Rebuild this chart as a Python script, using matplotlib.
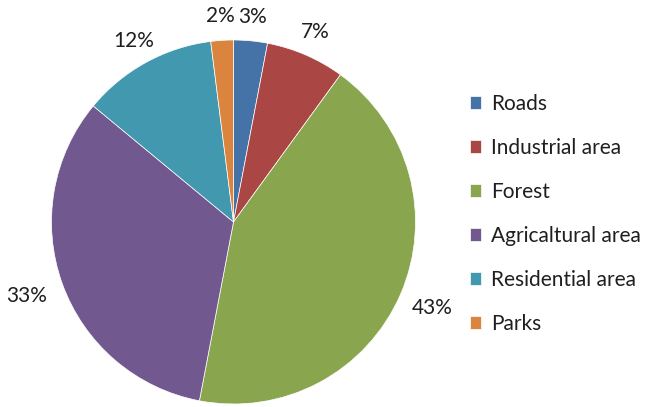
import matplotlib
matplotlib.use("Agg")
import matplotlib.pyplot as plt
import numpy as np

categories = ["Roads", "Industrial area", "Forest", "Agricaltural area", "Residential area", "Parks"]
values = [3, 7, 43, 33, 12, 2]
colors = ["#4572A7", "#AA4643", "#89A54E", "#71588F", "#4198AF", "#DB843D"]

plt.rcParams['font.family'] = ['Lato', 'DejaVu Sans']
FS = 15
TXT = '#1f1f1f'

W, H = 646, 407
fig = plt.figure(figsize=(W / 100, H / 100), dpi=100)
cx, cy, r = 233.5, 185, 182
ax = fig.add_axes([(cx - r) / W, (cy - r) / H, 2 * r / W, 2 * r / H])
wedges, texts, autotexts = ax.pie(
    values, colors=colors, startangle=90, counterclock=False,
    autopct='%1.0f%%', pctdistance=1.18,
    wedgeprops=dict(linewidth=0.5, edgecolor='white'),
    textprops=dict(fontsize=FS, color=TXT))
ax.set_xlim(-1, 1)
ax.set_ylim(-1, 1)
ax.set_aspect('equal')
ax.axis('off')

# place labels just outside the pie (outside-end style)
fig.canvas.draw()
renderer = fig.canvas.get_renderer()
gap = 17.0
for w, t in zip(wedges, autotexts):
    ang = np.deg2rad((w.theta1 + w.theta2) / 2)
    bb = t.get_window_extent(renderer)
    hw, hh = bb.width / 2 * 1.15, bb.height / 2 * 0.7
    c, s = abs(np.cos(ang)), abs(np.sin(ang))
    ext = min(hw / c if c > 1e-6 else 1e9, hh / s if s > 1e-6 else 1e9)
    d = (r + gap + ext) / r
    t.set_position((d * np.cos(ang), d * np.sin(ang)))

leg = fig.legend(wedges, categories, loc='center left',
                 bbox_to_anchor=(470 / W, (H - 214) / H),
                 frameon=False, fontsize=FS, borderpad=0, borderaxespad=0,
                 handlelength=0.55, handleheight=0.55, handletextpad=0.45,
                 labelspacing=1.15)
for t in leg.get_texts():
    t.set_color(TXT)

fig.savefig("out.png", dpi=100)
